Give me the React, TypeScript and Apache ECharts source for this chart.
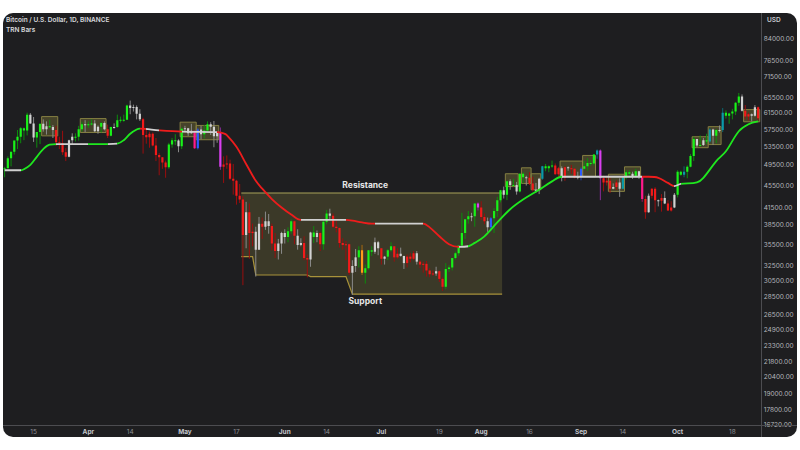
import React, { useEffect, useRef } from "react";
import * as echarts from "echarts";

// Daily candles BTC/USD (Binance), from 6 Mar 2021; [open, high, low, close] in thousand USD
const START_DATE = "2021-03-06";
const ohlcMar = [
  [48.9,49.2,47.1,48.9],[48.9,51.4,48.9,51.0],[51.0,52.4,49.3,52.4],[52.4,54.9,51.8,54.9],[54.9,57.4,53.0,55.8],[55.8,58.1,54.3,57.8],[57.8,58.0,55.0,57.3],[57.3,61.7,56.1,61.2],[61.2,61.6,58.9,59.0],[59.0,60.6,54.6,55.6],[55.6,56.9,53.3,56.9],[56.9,58.9,54.1,58.9],[58.9,60.0,57.0,57.6],[57.6,59.5,56.3,58.3],[58.3,59.9,57.8,58.1],[58.1,58.6,55.5,57.4],[57.4,58.4,53.7,54.5],[54.5,55.8,53.0,54.3],[54.3,57.2,51.7,52.3],[52.3,53.2,50.4,51.3],[51.3,55.1,51.2,55.0],[55.0,56.6,53.9,55.8],[55.8,56.6,54.7,55.8],[55.8,58.4,54.9,57.6],[57.6,59.4,57.0,58.8],[58.8,59.8,56.9,58.8],
];
const ohlcApr = [
  [58.8,59.5,57.9,58.7],[58.7,60.0,58.5,59.0],[59.0,59.8,56.9,57.1],[57.1,58.5,56.5,58.2],[58.2,59.3,56.8,59.1],[59.1,59.5,57.3,57.6],[57.6,58.7,55.5,56.0],[56.0,58.2,55.9,58.1],[58.1,59.0,57.7,58.1],[58.1,61.2,57.9,59.8],[59.8,60.7,59.2,59.9],[59.9,61.2,59.4,59.9],[59.9,63.8,59.9,63.6],[63.6,64.9,61.3,62.9],[62.9,63.8,62.0,63.2],[63.2,63.6,60.0,61.4],[61.4,62.6,59.6,60.0],[60.0,60.4,52.0,56.2],[56.2,57.5,54.2,55.7],[55.7,57.0,53.3,56.5],[56.5,56.8,53.6,53.8],[53.8,55.5,50.4,51.7],[51.7,52.1,47.5,51.2],[51.2,51.2,48.8,50.1],[50.1,50.5,47.0,49.1],[49.1,54.4,48.8,54.0],[54.0,55.5,53.3,55.0],[55.0,56.4,53.9,54.9],[54.9,55.2,52.3,53.6],[53.6,58.0,53.0,57.7],
];
const ohlcMay = [
  [57.7,58.4,57.0,57.8],[57.8,57.9,56.0,56.6],[56.6,58.9,56.5,57.2],[57.2,57.2,53.0,53.2],[53.2,57.9,52.9,57.5],[57.5,58.4,55.2,56.4],[56.4,58.6,55.4,57.3],[57.3,59.5,56.9,58.8],[58.8,59.3,56.2,58.2],[58.2,59.6,53.4,55.9],[55.9,56.9,54.4,56.7],[56.7,58.0,48.6,49.2],[49.2,51.4,46.0,49.7],[49.7,51.6,48.8,49.9],[49.9,50.7,46.6,46.8],[46.8,49.8,43.8,46.4],[46.4,46.6,42.0,43.6],[43.6,45.8,42.3,42.9],[42.9,43.5,30.0,37.0],[37.0,42.5,35.0,40.7],[40.7,42.2,33.5,37.3],[37.3,38.8,35.3,37.5],[37.5,38.3,31.1,34.8],[34.8,39.9,34.8,38.8],[38.8,39.8,36.4,38.3],[38.3,40.8,37.8,39.2],[39.2,40.4,37.2,38.4],[38.4,38.8,34.7,35.7],[35.7,37.3,33.6,34.6],[34.6,36.4,33.4,35.7],[35.7,37.5,34.2,37.3],
];
const ohlcJun = [
  [37.3,37.9,35.7,36.7],[36.7,38.2,35.9,37.6],[37.6,39.5,37.2,39.2],[39.2,39.3,35.6,36.9],[36.9,37.9,34.8,35.5],[35.5,36.5,35.3,35.8],[35.8,36.8,33.3,33.6],[33.6,34.1,31.0,33.4],[33.4,37.5,32.4,37.4],[37.4,38.4,35.8,36.7],[36.7,37.7,35.9,37.3],[37.3,37.5,34.6,35.6],[35.6,39.4,34.8,39.1],[39.1,41.1,38.7,40.5],[40.5,41.3,39.5,40.1],[40.1,40.5,38.1,38.3],[38.3,39.6,37.4,38.1],[38.1,38.2,35.1,35.8],[35.8,36.5,34.8,35.5],[35.5,36.1,33.3,35.6],[35.6,35.7,31.3,31.6],[31.6,33.3,28.8,32.5],[32.5,34.9,31.7,33.7],[33.7,35.3,32.3,34.7],[34.7,35.5,31.3,31.6],[31.6,32.7,30.2,32.2],[32.2,34.7,32.0,34.7],[34.7,35.3,33.9,34.5],[34.5,36.6,34.2,35.9],[35.9,36.1,34.0,35.0],
];
const ohlcJul = [
  [35.0,35.0,32.7,33.5],[33.5,33.9,32.7,33.8],[33.8,34.9,33.3,34.7],[34.7,35.9,34.5,35.3],[35.3,35.3,33.1,33.7],[33.7,35.0,33.5,34.2],[34.2,35.1,33.8,33.9],[33.9,33.9,32.1,32.9],[32.9,34.1,32.3,33.8],[33.8,34.3,33.0,33.5],[33.5,34.6,33.3,34.3],[34.3,34.6,32.7,33.1],[33.1,33.3,32.2,32.7],[32.7,33.1,31.6,32.8],[32.8,33.2,31.1,31.9],[31.9,32.2,31.0,31.4],[31.4,31.9,31.2,31.5],[31.5,32.4,31.2,31.8],[31.8,31.9,30.4,30.8],[30.8,31.0,29.3,29.8],[29.8,32.9,29.5,32.1],[32.1,32.6,31.7,32.3],[32.3,33.6,31.9,33.6],[33.6,34.5,33.4,34.3],[34.3,35.4,33.9,35.4],[35.4,40.6,35.2,37.3],[37.3,39.5,36.4,39.5],[39.5,40.9,38.8,40.0],[40.0,40.6,39.2,40.0],[40.0,42.3,38.3,42.2],[42.2,42.4,41.0,41.5],
];
const ohlcAug = [
  [41.5,42.6,39.4,39.9],[39.9,40.5,38.7,39.2],[39.2,39.8,37.5,38.2],[38.2,39.9,37.6,39.7],[39.7,41.4,37.3,40.9],[40.9,43.4,39.9,42.8],[42.8,44.7,42.4,44.6],[44.6,45.3,43.1,43.8],[43.8,46.5,42.8,46.3],[46.3,46.7,44.7,45.6],[45.6,46.8,45.3,45.6],[45.6,46.2,43.8,44.4],[44.4,47.9,44.2,47.8],[47.8,48.1,45.9,47.1],[47.1,47.4,45.5,47.0],[47.0,48.1,45.6,45.9],[45.9,47.2,44.4,44.7],[44.7,46.0,44.2,44.7],[44.7,47.0,43.9,46.8],[46.8,49.4,46.6,49.3],[49.3,49.8,48.3,48.9],[48.9,49.5,48.1,49.3],[49.3,50.5,49.0,49.5],[49.5,49.9,47.6,47.7],[47.7,49.2,47.2,48.9],[48.9,49.3,46.3,47.0],[47.0,49.3,46.4,49.1],[49.1,49.3,48.4,48.9],[48.9,49.6,47.8,48.8],[48.8,48.9,46.9,47.0],[47.0,48.2,46.7,47.2],
];
const ohlcSep = [
  [47.2,49.1,46.5,48.8],[48.8,50.4,48.6,49.3],[49.3,51.0,48.4,50.0],[50.0,50.6,49.4,49.9],[49.9,51.9,49.5,51.8],[51.8,52.9,50.9,52.7],[52.7,52.9,42.8,46.9],[46.9,47.4,44.4,46.1],[46.1,47.4,45.5,46.4],[46.4,47.1,44.1,44.9],[44.9,45.9,44.8,45.2],[45.2,46.5,44.7,46.1],[46.1,46.9,43.4,44.9],[44.9,47.3,44.8,47.1],[47.1,48.5,46.7,48.1],[48.1,48.5,47.0,47.8],[47.8,48.2,46.8,47.3],[47.3,48.8,47.1,48.3],[48.3,48.4,46.8,47.3],[47.3,47.3,42.5,43.0],[43.0,43.6,39.6,40.7],[40.7,44.0,40.6,43.6],[43.6,45.0,43.1,44.9],[44.9,45.2,40.7,42.8],[42.8,42.9,41.7,42.7],[42.7,43.9,40.8,43.2],[43.2,44.4,42.1,42.2],[42.2,42.8,40.9,41.0],[41.0,42.6,40.8,41.5],[41.5,44.1,41.4,43.8],
];
const ohlcOct = [
  [43.8,48.5,43.3,48.2],[48.2,48.4,47.4,47.6],[47.6,49.3,47.1,48.2],[48.2,49.5,46.9,49.2],[49.2,51.9,49.1,51.5],[51.5,55.8,50.4,55.3],[55.3,55.3,53.4,53.8],[53.8,56.1,53.6,53.9],[53.9,55.5,53.7,55.0],[55.0,56.5,54.1,54.7],[54.7,57.8,54.4,57.5],[57.5,57.7,53.9,56.0],[56.0,57.6,54.3,57.4],[57.4,58.5,56.8,57.4],[57.4,62.9,56.9,61.7],[61.7,62.3,60.2,60.9],[60.9,61.7,58.9,61.5],[61.5,62.7,60.0,62.0],[62.0,64.5,61.1,64.3],[64.3,67.0,63.5,66.0],[66.0,66.6,62.0,62.2],[62.2,63.7,60.0,60.7],[60.7,61.7,59.7,61.3],[61.3,61.5,59.5,60.9],[60.9,63.7,60.7,63.1],[63.1,63.3,59.8,60.3],
];

// TRN bar colour per candle (G green, R red, W neutral, B blue, M violet, P pink, O orange, T teal)
const barColorsMar = "GGGGGGGGWWGGWWGWRRRRWWGGGW";
const barColorsApr = "GGWWGWRGWGGGGWWWWRRRRRRRRGGGWG";
const barColorsMay = "WWWPBWGGWWWMRRRRRRRWRRWWRWWRRWW";
const barColorsJun = "WGGRWWRRWGWRGGWRRRRRRWWGOGGGWW";
const barColorsJul = "RWGGRRWWRRRWRRRRRWRRGGGGGGGGWGM";
const barColorsAug = "RRWBGGGWGWGWGGWRRWWTGGGRRWRWRRW";
const barColorsSep = "BGGGGTMRRRWRWTGGWGWPRWRRWRWRRW";
const barColorsOct = "GGTGGGWGWGTWGWTGGGGGWRRWWR";

// Trend line (thousand USD) and its colour sections
const trendPoints: [string, number][] = [
  ["03-06",48.5],["03-11",48.5],["03-12",48.7],["03-14",49.6],["03-16",51.3],["03-18",53.0],["03-20",54.0],["03-22",54.1],
  ["04-07",54.1],["04-10",54.2],["04-12",55.0],["04-14",56.5],["04-16",57.5],["04-17",57.7],["04-23",57.3],["04-30",57.0],
  ["05-11",56.9],["05-13",56.6],["05-14",56.2],["05-17",53.5],["05-20",49.8],["05-23",46.4],["05-25",44.9],["05-28",43.0],["05-31",41.5],
  ["06-03",40.3],["06-06",39.4],["06-20",39.4],["06-22",39.3],["06-25",39.0],["06-28",38.8],
  ["07-14",38.8],["07-16",38.2],["07-19",36.8],["07-22",35.6],["07-25",35.2],["07-28",35.3],["07-30",35.8],
  ["08-02",36.8],["08-06",39.0],["08-10",41.2],["08-14",42.9],["08-19",44.7],["08-23",46.3],["08-26",47.2],
  ["09-20",47.2],["09-22",47.2],["09-25",47.0],["09-28",46.0],["09-30",45.4],
  ["10-02",45.8],["10-07",46.1],["10-09",47.0],["10-13",50.4],["10-16",52.5],["10-20",57.1],["10-23",58.8],["10-26",59.5],
];
const trendSections: [string, string][] = [
  ["03-06","W"],["03-11","G"],["03-22","W"],["04-01","G"],["04-07","W"],["04-10","G"],["04-17","R"],["04-19","W"],["04-23","R"],
  ["04-30","W"],["05-11","R"],["06-06","W"],["06-20","R"],["06-29","W"],["07-14","R"],["07-25","W"],["07-28","G"],
  ["08-26","W"],["09-20","R"],["09-30","W"],["10-02","G"],
];

// Consolidation boxes: [from, to, low, high] in thousand USD
const rangeBoxes: [string, string, number, number][] = [
  ["03-18","03-22",56.0,60.7],["03-30","04-06",56.8,60.2],["04-30","05-04",55.8,59.3],["05-05","05-11",55.1,58.5],
  ["08-09","08-12",45.3,47.8],["08-14","08-16",45.9,49.0],["08-17","08-19",44.7,47.8],["08-26","09-01",47.2,50.4],
  ["09-02","09-05",47.2,51.6],["09-10","09-14",44.4,47.7],["09-15","09-19",47.2,49.2],["10-06","10-10",53.3,55.8],
  ["10-11","10-14",54.0,58.2],["10-22","10-26",59.4,62.5],
];
// Support / resistance zone
const resistanceLine: [string, number][] = [["05-19",44.1],["08-07",44.1]];
const supportLine: [string, number][] = [
  ["05-19",33.8],["05-22",33.8],["05-23",31.3],["06-08",31.3],["06-09",31.1],["06-20",31.1],["06-22",28.9],["08-07",28.9],
];
const zoneLabelDate = "06-26";

const xTickLabels: [string, string][] = [
  ["03-15","15"],["04-01","Apr"],["04-14","14"],["05-01","May"],["05-17","17"],["06-01","Jun"],["06-14","14"],["07-01","Jul"],
  ["07-19","19"],["08-01","Aug"],["08-16","16"],["09-01","Sep"],["09-14","14"],["10-01","Oct"],["10-18","18"],
];
const yTickValues = [84000,76500,71500,65500,61500,57500,53500,49500,45500,41500,38500,35500,32500,30500,28500,26500,24900,23300,21800,20400,19000,17800,16720];
const yMinPrice = 16720;
const yMaxPrice = 93600;

const BODY: Record<string, string> = { G: "#19f219", R: "#f21a1a", W: "#d2d2d2", B: "#2d5bff", M: "#d93ff0", P: "#ff1a8c", O: "#ff9a1a", T: "#0a9aa8" };
const WICK: Record<string, string> = { G: "#0c8c0c", R: "#9a0e0e", W: "#8a8a8a", B: "#2a44a8", M: "#8a2c9c", P: "#a0125c", O: "#a86a10", T: "#0b6a72" };
const LINE: Record<string, string> = { G: "#1ee81e", R: "#ee1c1c", W: "#d0d0d0" };

const FONT = 'Inter, "Liberation Sans", Arial, sans-serif';
const DAY = 86400000;
const startMs = Date.parse(START_DATE + "T00:00:00Z");
const idx = (md: string) => Math.round((Date.UTC(2021, +md.slice(0, 2) - 1, +md.slice(3, 5)) - startMs) / DAY);

function buildOption() {
  const ohlc = [...ohlcMar, ...ohlcApr, ...ohlcMay, ...ohlcJun, ...ohlcJul, ...ohlcAug, ...ohlcSep, ...ohlcOct];
  const codes = (barColorsMar + barColorsApr + barColorsMay + barColorsJun + barColorsJul + barColorsAug + barColorsSep + barColorsOct).split("");
  const N = ohlc.length;
  const L = (k: number) => Math.log(k * 1000);

  const candleData = ohlc.map((d, i) => [i, L(d[0]), L(d[3]), L(d[2]), L(d[1])]);
  const trendData = trendPoints.map(([d, v]) => [idx(d), L(v)]);
  const pieces = trendSections.map(([d, c], k) => ({
    gte: k === 0 ? -10 : idx(d),
    lt: k === trendSections.length - 1 ? 10000 : idx(trendSections[k + 1][0]),
    color: LINE[c],
  }));
  const boxData = rangeBoxes.map(([a, b, lo, hi]) => [idx(a), idx(b), L(lo), L(hi)]);
  const labelMap: Record<number, string> = {};
  xTickLabels.forEach(([d, t]) => (labelMap[idx(d)] = t));
  const months = ["Apr", "May", "Jun", "Jul", "Aug", "Sep", "Oct"];

  return {
    animation: false,
    backgroundColor: "transparent",
    textStyle: { fontFamily: FONT },
    grid: { left: 0, right: 36, top: 0, bottom: 12, containLabel: false },
    xAxis: {
      type: "value",
      min: -0.5,
      max: N - 0.5,
      splitLine: { show: false },
      axisTick: { show: false },
      axisLine: { show: false },
      axisLabel: {
        customValues: Object.keys(labelMap).map(Number),
        margin: 3,
        fontSize: 6.5,
        color: "#8c8e94",
        fontFamily: FONT,
        formatter: (v: number) => {
          const t = labelMap[Math.round(v)] || "";
          return months.includes(t) ? `{m|${t}}` : t;
        },
        rich: { m: { fontSize: 6.5, fontWeight: "bold", color: "#c4c6cc", fontFamily: FONT } },
      },
    },
    yAxis: {
      type: "value",
      position: "right",
      min: Math.log(yMinPrice),
      max: Math.log(yMaxPrice),
      splitLine: { show: false },
      axisTick: { show: false },
      axisLine: { show: false },
      axisLabel: {
        customValues: yTickValues.map((t) => Math.log(t)),
        margin: 4,
        fontSize: 6.5,
        color: "#b4b6bc",
        fontFamily: FONT,
        formatter: (v: number) => {
          const t = yTickValues.find((x) => Math.abs(Math.log(x) - v) < 1e-6);
          return (t ?? Math.exp(v)).toFixed(2);
        },
      },
    },
    visualMap: { show: false, type: "piecewise", dimension: 0, seriesIndex: 3, pieces },
    graphic: [
      { type: "line", shape: { x1: 0, y1: 412.5, x2: 794, y2: 412.5 }, style: { stroke: "#4c4c50", lineWidth: 1 }, z: 10 },
      { type: "line", shape: { x1: 758.5, y1: 0, x2: 758.5, y2: 424 }, style: { stroke: "#4c4c50", lineWidth: 1 }, z: 10 },
      { type: "text", left: 3, top: 3, style: { text: "Bitcoin / U.S. Dollar, 1D, BINANCE", fill: "#d8d9dd", font: `600 6.5px ${FONT}` } },
      { type: "text", left: 3, top: 13, style: { text: "TRN Bars", fill: "#d8d9dd", font: `600 6.5px ${FONT}` } },
      { type: "text", left: 764, top: 3, style: { text: "USD", fill: "#c8cad0", font: `600 6.5px ${FONT}` } },
    ],
    series: [
      {
        type: "custom",
        name: "ranges",
        data: boxData,
        encode: { x: [0, 1], y: [2, 3] },
        renderItem: (params: any, api: any) => {
          const p1 = api.coord([api.value(0) - 0.5, api.value(3)]);
          const p2 = api.coord([api.value(1) + 0.5, api.value(2)]);
          return {
            type: "rect",
            shape: { x: p1[0], y: p1[1], width: p2[0] - p1[0], height: p2[1] - p1[1] },
            style: { fill: "rgba(140,132,60,0.36)", stroke: "#857f42", lineWidth: 1 },
          };
        },
        z: 1,
      },
      {
        type: "custom",
        name: "zone",
        data: [[idx(resistanceLine[0][0]), L(resistanceLine[0][1])]],
        encode: { x: 0, y: 1 },
        renderItem: (params: any, api: any) => {
          const top = resistanceLine.map(([d, v], k) => api.coord([idx(d) + (k === 0 ? -0.5 : 0.5), L(v)]));
          const bot = supportLine.map(([d, v], k) => {
            let x = idx(d);
            if (k === 0) x -= 0.5;
            if (k === supportLine.length - 1) x += 0.5;
            return api.coord([x, L(v)]);
          });
          const poly = [...top, ...bot.slice().reverse()];
          const mid = api.coord([idx(zoneLabelDate), L(resistanceLine[0][1])]);
          const low = Math.max(...bot.map((p: number[]) => p[1]));
          return {
            type: "group",
            children: [
              { type: "polygon", shape: { points: poly }, style: { fill: "rgba(128,122,60,0.30)" } },
              { type: "polyline", shape: { points: top }, style: { stroke: "#a8a258", lineWidth: 1.2, fill: null } },
              { type: "polyline", shape: { points: bot }, style: { stroke: "#a8923a", lineWidth: 1.2, fill: null } },
              { type: "text", style: { text: "Resistance", x: mid[0], y: mid[1] - 8, align: "center", verticalAlign: "middle", fill: "#e6e6e6", font: `bold 8.5px ${FONT}` } },
              { type: "text", style: { text: "Support", x: mid[0], y: low + 7, align: "center", verticalAlign: "middle", fill: "#e6e6e6", font: `bold 8.5px ${FONT}` } },
            ],
          };
        },
        z: 1,
      },
      {
        type: "custom",
        name: "candles",
        data: candleData,
        encode: { x: 0, y: [1, 2, 3, 4] },
        renderItem: (params: any, api: any) => {
          const i = api.value(0);
          const code = codes[params.dataIndex] || "W";
          const pO = api.coord([i, api.value(1)]);
          const pC = api.coord([i, api.value(2)]);
          const pL = api.coord([i, api.value(3)]);
          const pH = api.coord([i, api.value(4)]);
          const w = Math.max(1.5, api.size([1, 0])[0] * 0.68);
          const x = pO[0];
          const yTop = Math.min(pO[1], pC[1]);
          const h = Math.max(1, Math.abs(pO[1] - pC[1]));
          return {
            type: "group",
            children: [
              { type: "line", shape: { x1: x, y1: pH[1], x2: x, y2: pL[1] }, style: { stroke: WICK[code], lineWidth: 1 } },
              { type: "rect", shape: { x: x - w / 2, y: yTop, width: w, height: h }, style: { fill: BODY[code] } },
            ],
          };
        },
        z: 3,
      },
      {
        type: "line",
        name: "trend",
        data: trendData,
        smooth: 0.35,
        showSymbol: false,
        lineStyle: { width: 1.8 },
        z: 4,
      },
    ],
  };
}

export default function App() {
  const ref = useRef<HTMLDivElement>(null);
  useEffect(() => {
    const chart = echarts.init(ref.current!, undefined, { renderer: "svg" });
    chart.setOption(buildOption() as any);
    return () => chart.dispose();
  }, []);
  return (
    <div style={{ position: "fixed", left: 0, top: 0, width: 800, height: 450, background: "#ffffff" }}>
      <div
        ref={ref}
        style={{ position: "absolute", left: 3, top: 13, width: 794, height: 424, background: "#1e1e20", borderRadius: 10, overflow: "hidden" }}
      />
    </div>
  );
}
